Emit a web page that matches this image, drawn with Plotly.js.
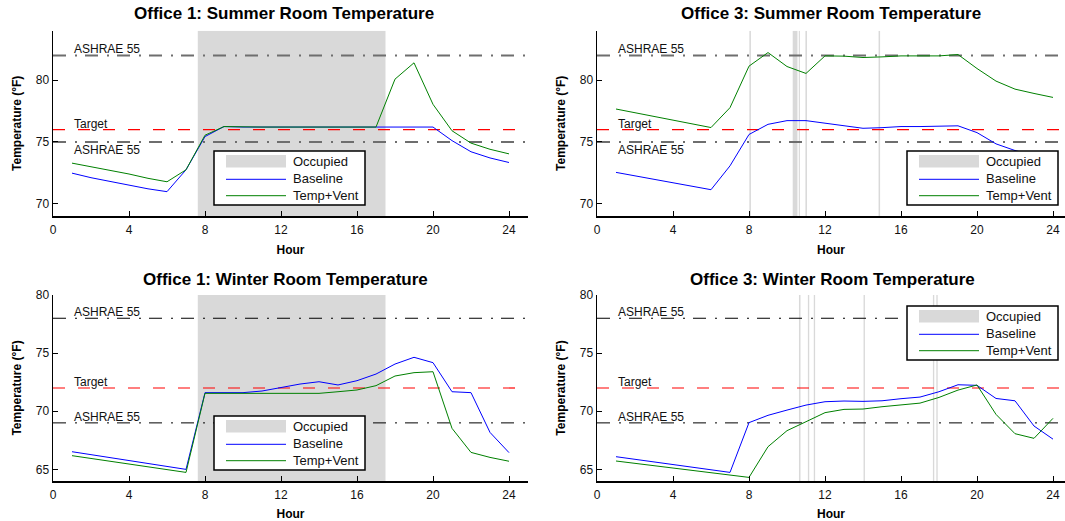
<!DOCTYPE html>
<html>
<head>
<meta charset="utf-8">
<script src="https://cdn.plot.ly/plotly-3.0.1.min.js"></script>
<style>
html, body { margin: 0; padding: 0; background: #fff; }
#chart { width: 1065px; height: 521px; }
</style>
</head>
<body>
<div id="chart"></div>
<script>
// ---------- data ----------
const hours = [1,2,3,4,5,6,7,8,9,10,11,12,13,14,15,16,17,18,19,20,21,22,23,24];
const xTicks = [0,4,8,12,16,20,24];
const summerYTicks = [70,75,80];
const winterYTicks = [65,70,75,80];

const o1SummerBaseline = [72.47,72.1,71.8,71.5,71.2,70.97,72.74,75.43,76.24,76.2,76.2,76.2,76.2,76.2,76.2,76.2,76.2,76.2,76.2,76.2,75.1,74.2,73.7,73.33];
const o1SummerTempVent = [73.28,73.0,72.7,72.4,72.05,71.77,72.74,75.54,76.24,76.2,76.2,76.2,76.2,76.2,76.2,76.2,76.2,80.08,81.4,78.04,75.9,74.9,74.4,74.03];
const o3SummerBaseline = [72.53,72.25,71.95,71.65,71.38,71.13,73.06,75.6,76.42,76.72,76.72,76.5,76.3,76.1,76.15,76.24,76.24,76.26,76.3,75.75,74.84,74.3,73.9,73.5];
const o3SummerTempVent = [77.66,77.35,77.05,76.75,76.45,76.16,77.77,81.13,82.23,81.1,80.54,81.96,81.94,81.83,81.88,81.96,81.96,81.96,82.07,80.94,79.92,79.27,78.92,78.6];
const o1WinterBaseline = [66.52,66.27,66.02,65.77,65.51,65.26,65.0,71.6,71.6,71.6,71.74,72.03,72.34,72.54,72.26,72.63,73.2,74.06,74.64,74.18,71.68,71.6,68.18,66.44];
const o1WinterTempVent = [66.18,65.94,65.7,65.46,65.22,64.98,64.74,71.54,71.54,71.54,71.54,71.54,71.54,71.54,71.68,71.83,72.2,73.03,73.32,73.4,68.53,66.46,66.03,65.7];
const o3WinterBaseline = [66.09,65.87,65.64,65.42,65.19,64.97,64.74,69.02,69.65,70.1,70.53,70.82,70.88,70.85,70.9,71.08,71.22,71.68,72.28,72.23,71.1,70.9,68.73,67.6];
const o3WinterTempVent = [65.72,65.52,65.32,65.12,64.91,64.71,64.51,64.31,66.95,68.33,69.1,69.88,70.16,70.19,70.39,70.56,70.7,71.19,71.82,72.26,69.73,68.07,67.67,69.39];

// occupied periods [start, end] in hours
const o1Occupied = [[7.62, 17.5]];
const o3SummerOccupied = [[8.02,8.1],[10.3,10.55],[10.62,10.68],[10.97,11.05],[14.82,14.9]];
const o3WinterOccupied = [[10.63,10.71],[11.1,11.17],[11.41,11.48],[14.03,14.1],[17.68,17.75],[17.86,17.93]];

const summerAshrae = [82, 75];
const summerTarget = 76;
const winterAshrae = [78, 69];
const winterTarget = 72;

const summerYRange = [69, 84];
const winterYRange = [64, 80];
const xRange = [0, 25];

const titles = ["Office 1: Summer Room Temperature","Office 3: Summer Room Temperature","Office 1: Winter Room Temperature","Office 3: Winter Room Temperature"];
const legendNames = ["Occupied", "Baseline", "Temp+Vent"];
const xTitle = "Hour";
const yTitle = "Temperature (°F)";

// ---------- build ----------
const FONT = "Liberation Sans, Arial, sans-serif";
const W = 1065, H = 521;
const PX = v => v / W, PY = v => 1 - v / H;
const OCC_COLOR = '#d9d9d9', BASE_COLOR = '#0000ff', TV_COLOR = '#008000';
const traces = [];
const annotations = [];
const shapes = [];

function occTrace(intervals, yr, xa, ya) {
  const xs = [], ys = [];
  intervals.forEach(([a,b]) => {
    xs.push(a,a,b,b,a,null);
    ys.push(yr[0],yr[1],yr[1],yr[0],yr[0],null);
  });
  return {x: xs, y: ys, xaxis: xa, yaxis: ya, type: 'scatter', mode: 'lines',
    fill: 'toself', fillcolor: OCC_COLOR, line: {width: 0, color: OCC_COLOR},
    name: legendNames[0], showlegend: false, hoverinfo: 'skip'};
}
function hline(v, xa, ya, color, width, dash) {
  return {x: xRange, y: [v, v], xaxis: xa, yaxis: ya, type: 'scatter', mode: 'lines',
    line: {color: color, width: width, dash: dash}, showlegend: false, hoverinfo: 'skip'};
}
function series(vals, name, color, xa, ya) {
  return {x: hours, y: vals, xaxis: xa, yaxis: ya, type: 'scatter', mode: 'lines',
    line: {color: color, width: 1}, name: name, showlegend: false};
}
function label(text, v, xa, ya, below) {
  annotations.push({text: text, x: 1, y: v, xref: xa, yref: ya, showarrow: false,
    xanchor: 'left', yanchor: below ? 'top' : 'bottom', yshift: below ? 1 : -3,
    font: {family: FONT, size: 12, color: '#111'}});
}
// boxed legend drawn in paper space
function legendBox(left, top) {
  const w = 151, h = 54;
  shapes.push({type: 'rect', xref: 'paper', yref: 'paper', layer: 'above',
    x0: PX(left), x1: PX(left + w), y0: PY(top + h), y1: PY(top),
    fillcolor: '#ffffff', line: {color: '#000', width: 1.5}});
  shapes.push({type: 'rect', xref: 'paper', yref: 'paper', layer: 'above',
    x0: PX(left + 12), x1: PX(left + 72), y0: PY(top + 16.5), y1: PY(top + 4),
    fillcolor: OCC_COLOR, line: {width: 0}});
  [[BASE_COLOR, 28.3], [TV_COLOR, 44.7]].forEach(([c, dy]) => {
    shapes.push({type: 'line', xref: 'paper', yref: 'paper', layer: 'above',
      x0: PX(left + 12), x1: PX(left + 72), y0: PY(top + dy), y1: PY(top + dy),
      line: {color: c, width: 1}});
  });
  [10.5, 27.5, 44.5].forEach((dy, i) => {
    annotations.push({text: legendNames[i], x: PX(left + 77), y: PY(top + dy), xref: 'paper', yref: 'paper',
      showarrow: false, xanchor: 'left', yanchor: 'middle', font: {family: FONT, size: 13, color: '#111'}});
  });
}

const panels = [
  {xa:'x',  ya:'y',  occ:o1Occupied,       yr:summerYRange, ash:summerAshrae, tgt:summerTarget, base:o1SummerBaseline, tv:o1SummerTempVent, summer:true,  leg:[214, 151]},
  {xa:'x2', ya:'y2', occ:o3SummerOccupied, yr:summerYRange, ash:summerAshrae, tgt:summerTarget, base:o3SummerBaseline, tv:o3SummerTempVent, summer:true,  leg:[907, 151]},
  {xa:'x3', ya:'y3', occ:o1Occupied,       yr:winterYRange, ash:winterAshrae, tgt:winterTarget, base:o1WinterBaseline, tv:o1WinterTempVent, summer:false, leg:[214, 416]},
  {xa:'x4', ya:'y4', occ:o3WinterOccupied, yr:winterYRange, ash:winterAshrae, tgt:winterTarget, base:o3WinterBaseline, tv:o3WinterTempVent, summer:false, leg:[907, 306]},
];

panels.forEach(p => {
  traces.push(occTrace(p.occ, p.yr, p.xa, p.ya));
  const ashColor = p.summer ? '#6e6e6e' : '#000000';
  const ashWidth = p.summer ? 2 : 1;
  p.ash.forEach(v => traces.push(hline(v, p.xa, p.ya, ashColor, ashWidth, '13px,9px,2px,8px')));
  traces.push(hline(p.tgt, p.xa, p.ya, '#ff0000', 1.2, '12px,13px'));
  traces.push(series(p.base, legendNames[1], BASE_COLOR, p.xa, p.ya));
  traces.push(series(p.tv, legendNames[2], TV_COLOR, p.xa, p.ya));
  label('ASHRAE 55', p.ash[0], p.xa, p.ya, false);
  label('ASHRAE 55', p.ash[1], p.xa, p.ya, p.summer);
  label('Target', p.tgt, p.xa, p.ya, false);
  legendBox(p.leg[0], p.leg[1]);
});

// 19 px per hour on both columns; right column runs past the page edge
const leftDom = [53/W, 528/W];
const rightDom = [597/W, 1.0];
const rightRange = [0, (W - 597) / 19];
const topDom = [(H-216)/H, (H-30.7)/H];
const botDom = [(H-481)/H, (H-295)/H];

function xaxis(dom, anchor, range) {
  return {domain: dom, anchor: anchor, range: range, tickvals: xTicks, ticks: 'inside', ticklen: 5,
    tickcolor: '#000', showline: true, linecolor: '#000', linewidth: 1.5, showgrid: false, zeroline: false,
    ticklabelstandoff: 2,
    tickfont: {family: FONT, size: 12, color: '#111'},
    title: {text: '<b>' + xTitle + '</b>', font: {family: FONT, size: 12, color: '#000'}, standoff: 9}};
}
function yaxis(dom, anchor, yr, ticks) {
  return {domain: dom, anchor: anchor, range: yr, tickvals: ticks, ticks: 'inside', ticklen: 5,
    tickcolor: '#000', showline: true, linecolor: '#000', linewidth: 1.5, showgrid: false, zeroline: false,
    tickfont: {family: FONT, size: 12, color: '#111'},
    title: {text: '<b>' + yTitle + '</b>', font: {family: FONT, size: 12, color: '#000'}, standoff: 11}};
}

const titleX = [284/W, 831/W, 285/W, 832/W];
const titleY = [1 - 14/H, 1 - 14/H, 1 - 279.3/H, 1 - 279.3/H];
titles.forEach((t, i) => {
  annotations.push({text: '<b>' + t + '</b>', x: titleX[i], y: titleY[i], xref: 'paper', yref: 'paper',
    showarrow: false, xanchor: 'center', yanchor: 'middle', font: {family: FONT, size: 17, color: '#000'}});
});

const layout = {
  width: W, height: H, margin: {l: 0, r: 0, t: 0, b: 0},
  paper_bgcolor: '#fff', plot_bgcolor: '#fff', showlegend: false,
  xaxis: xaxis(leftDom, 'y', xRange), yaxis: yaxis(topDom, 'x', summerYRange, summerYTicks),
  xaxis2: xaxis(rightDom, 'y2', rightRange), yaxis2: yaxis(topDom, 'x2', summerYRange, summerYTicks),
  xaxis3: xaxis(leftDom, 'y3', xRange), yaxis3: yaxis(botDom, 'x3', winterYRange, winterYTicks),
  xaxis4: xaxis(rightDom, 'y4', rightRange), yaxis4: yaxis(botDom, 'x4', winterYRange, winterYTicks),
  shapes: shapes,
  annotations: annotations
};

Plotly.newPlot('chart', traces, layout, {displayModeBar: false, staticPlot: true});
</script>
</body>
</html>
